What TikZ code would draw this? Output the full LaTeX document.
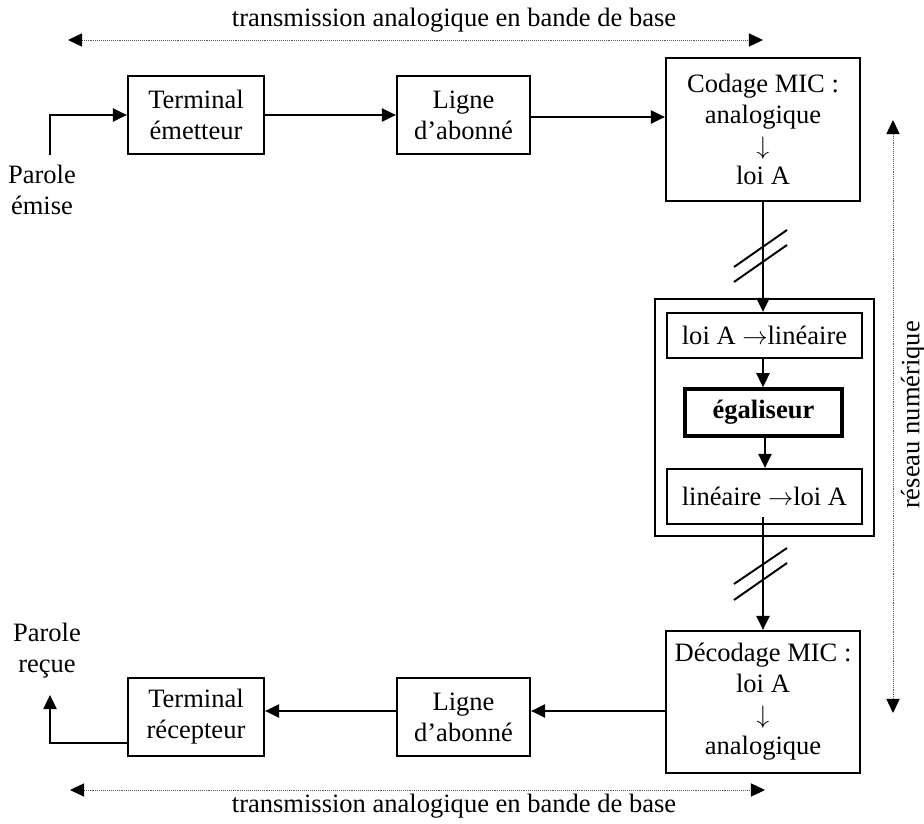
\documentclass[tikz,border=0pt]{standalone}
\usepackage{fontspec}
\setmainfont{Liberation Serif}
\usetikzlibrary{arrows.meta}
\tikzset{
	% Blocs et liaisons
	bloc/.style={draw, line width=1.3pt, align=center, inner sep=0pt},
	fleche/.style={line width=1.1pt, -{Triangle[length=8pt,width=7.5pt]}},
	% Etendue des zones de transmission
	zone/.style={line width=0.5pt, gray!70!black, dash pattern=on 0.5pt off 0.6pt,
		{Triangle[length=8pt,width=7.5pt,color=black]}-{Triangle[length=8pt,width=7.5pt,color=black]}}
}

\begin{document}
\begin{tikzpicture}[x=0.02cm, y=-0.02cm, every node/.style={font=\fontsize{15.1}{17.6}\selectfont}]
	\useasboundingbox (0,0) rectangle (924,824);
	\node [bloc, minimum width=2.72cm, minimum height=1.56cm] (term1) at (196,115) {Terminal\\émetteur};
	\node [bloc, minimum width=2.66cm, minimum height=1.56cm] (ligne1) at (463.5,115) {Ligne\\d’abonné};
	\node [bloc, minimum width=3.88cm, minimum height=2.86cm] (codage) at (763,129.5) {Codage MIC :\\analogique\\$\downarrow$\\loi A};
	\node [draw, line width=1pt, minimum width=4.38cm, minimum height=4.74cm] (reseau) at (764.5,417.5) {};
	\node [bloc, minimum width=3.9cm, minimum height=0.9cm] (loiA) at (764.5,335.5) {loi A $\rightarrow$linéaire};
	\node [bloc, line width=2pt, minimum width=3.14cm, minimum height=0.94cm] (egal) at (763.5,412.5) {\textbf{égaliseur}};
	\node [bloc, minimum width=3.9cm, minimum height=1.1cm] (lin) at (764.5,496.5) {linéaire $\rightarrow$loi A};
	\node [bloc, minimum width=3.88cm, minimum height=2.84cm] (decodage) at (763,702) {Décodage MIC :\\loi A\\$\downarrow$\\analogique};
	\node [bloc, minimum width=2.66cm, minimum height=1.56cm] (ligne2) at (463.5,717) {Ligne\\d’abonné};
	\node [bloc, minimum width=2.72cm, minimum height=1.56cm] (term2) at (196,717) {Terminal\\récepteur};
	\node [align=center] (emise) at (42,190) {Parole\\émise};
	\node [align=center] (recue) at (47,651) {Parole\\reçue};
	\node (haut) at (454,20) {transmission analogique en bande de base};
	\node (bas) at (454,806) {transmission analogique en bande de base};
	\node [rotate=90] (numerique) at (913,415) {réseau numérique};

	\coordinate (entree) at (50,155);
	\coordinate (sortie) at (50,695);
	\draw [fleche] (entree) |- (term1.west);
	\draw [fleche] (term1.east) -- (ligne1.west);
	\draw [fleche] (ligne1.east) ++(0,2) coordinate (a1) -- (a1 -| codage.west);
	\draw [fleche] (codage.south) -- (codage.south |- loiA.north);
	\draw [fleche] (loiA.south -| codage.south) -- (codage.south |- egal.north);
	\draw [fleche] (egal.south) ++(1.5,0) coordinate (e1) -- (e1 |- lin.north);
	\coordinate (d0) at (763,517);
	\draw [fleche] (d0) -- (d0 |- decodage.north);
	\draw [fleche] (decodage.west) ++(0,9) coordinate (r1) -- (r1 -| ligne2.east);
	\draw [fleche] (ligne2.west) ++(0,-6) coordinate (r2) -- (r2 -| term2.east);
	\draw [fleche] (term2.south west) ++(0,-14) -| (sortie);

	\coordinate (c1) at (763,256);
	\coordinate (c2) at (763,574);
	\draw [line width=1.1pt] (c1) ++(-29,11) -- ++(53,-37);
	\draw [line width=1.1pt] (c1) ++(-29,26) -- ++(53,-37);
	\draw [line width=1.1pt] (c2) ++(-29,10) -- ++(53,-36);
	\draw [line width=1.1pt] (c2) ++(-29,26) -- ++(53,-37);

	\coordinate (h1) at (68,40);
	\coordinate (h2) at (763,40);
	\coordinate (b1) at (70,790);
	\coordinate (b2) at (765,790);
	\coordinate (v1) at (893,120);
	\coordinate (v2) at (893,713);
	\draw [zone] (h1) -- (h2);
	\draw [zone] (b1) -- (b2);
	\draw [zone] (v1) -- (v2);
\end{tikzpicture}
\end{document}
